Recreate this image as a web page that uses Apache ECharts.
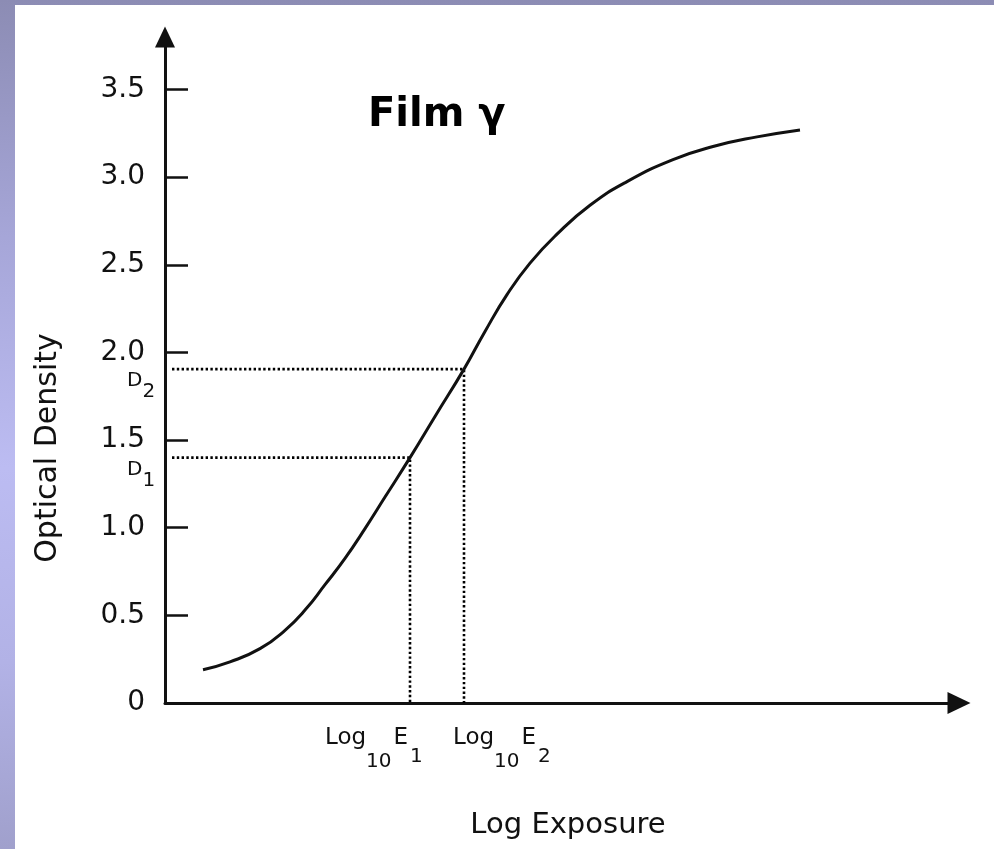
<!DOCTYPE html>
<html><head><meta charset="utf-8">
<script src="https://cdn.jsdelivr.net/npm/echarts@6/dist/echarts.min.js"></script>
<style>
html,body{margin:0;padding:0;}
body{width:994px;height:849px;position:relative;overflow:hidden;
background:linear-gradient(to bottom,#8c8cb4 0%,#a6a6d8 28%,#bcbcf2 55%,#b2b2e6 78%,#a0a0cc 100%);}
#paper{position:absolute;left:15px;top:5px;right:0;bottom:0;background:#fff;}
#chart{position:absolute;left:0;top:0;width:994px;height:849px;}
</style></head><body>
<div id="paper"></div><div id="chart"></div>
<script>
// Characteristic (H&D) curve of a film
const exposure = [0.38,0.65,0.95,1.20,1.40,1.60,1.80,2.00,2.20,2.45,2.70,2.99,3.20,3.42,3.65,3.92,4.25,4.62,5.08,5.48,5.92,6.35];
const density  = [0.19,0.235,0.31,0.415,0.53,0.675,0.825,0.995,1.175,1.40,1.635,1.905,2.12,2.33,2.51,2.675,2.84,2.975,3.10,3.175,3.23,3.27];
const yTicks = [0,0.5,1.0,1.5,2.0,2.5,3.0,3.5];
const markExposure = [2.45, 2.99];   // Log10 E1, Log10 E2
const markDensity  = [1.40, 1.905];  // D1, D2
const markIndex = ['1','2'];
const titleText = 'Film γ';
const xName = 'Log Exposure';
const yName = 'Optical Density';

const FONT = 'DejaVu Sans';
const INK = '#111';

const curve = exposure.map((x,i)=>[x,density[i]]);
const guideSeries = markExposure.map((e,i)=>({
  type:'line', symbol:'none', silent:true, z:1,
  data:[[0.07, markDensity[i]],[e, markDensity[i]],[e, 0]],
  lineStyle:{color:'#000', width:2.6, type:[2.4,2.4]}
}));

const chart = echarts.init(document.getElementById('chart'), null, {renderer:'canvas'});
const option = {
  animation:false,
  backgroundColor:'transparent',
  grid:{left:165, right:35, top:37, bottom:146, containLabel:false},
  xAxis:{
    type:'value', min:0, max:7.94,
    axisLine:{show:true, symbol:['none','triangle'], symbolSize:[22,23], lineStyle:{color:INK, width:3}},
    axisTick:{show:false}, axisLabel:{show:false}, splitLine:{show:false},
    name:xName, nameLocation:'middle', nameGap:108,
    nameTextStyle:{fontFamily:FONT, fontSize:29, color:INK, padding:[0,0,0,12]}
  },
  yAxis:{
    type:'value', min:0, max:3.8,
    axisLine:{show:true, symbol:['none','triangle'], symbolSize:[20,21], lineStyle:{color:INK, width:3}},
    axisTick:{show:true, inside:true, length:23, customValues:yTicks, lineStyle:{color:INK, width:2.5}},
    axisLabel:{customValues:yTicks, margin:20, fontFamily:FONT, fontSize:28, color:INK,
      formatter:v=> v===0 ? '0' : v.toFixed(1)},
    splitLine:{show:false}
  },
  series:[
    {type:'line', data:curve, symbol:'none', smooth:0.5, z:3,
     lineStyle:{color:INK, width:3}},
    ...guideSeries
  ]
};
chart.setOption(option);

function toPx(x,y){ return chart.convertToPixel({gridIndex:0},[x,y]); }

const graphics = [];
// title
graphics.push({type:'text', left:368, top:96, z:10,
  style:{text:titleText, font:'bold 40px "DejaVu Sans"', fill:'#000'}});
// y axis name
graphics.push({type:'text', x:48, y:448, rotation:Math.PI/2, z:10,
  style:{text:yName, font:'30px "DejaVu Sans"', fill:INK, align:'center', verticalAlign:'middle'}});
// D labels
markDensity.forEach((d,i)=>{
  const p = toPx(0,d);
  graphics.push({type:'text', x:127, y:p[1]+2, z:10,
    style:{text:'{m|D}{s|'+markIndex[i]+'}', verticalAlign:'top', fill:INK,
      rich:{m:{fontFamily:FONT, fontSize:20, lineHeight:20, verticalAlign:'top', fill:INK},
            s:{fontFamily:FONT, fontSize:20, lineHeight:20, verticalAlign:'top', padding:[11,0,0,0], fill:INK}}}});
});
// Log10 E labels
const eShift = [-85, -11];
markExposure.forEach((e,i)=>{
  const p = toPx(e,0);
  graphics.push({type:'text', x:p[0]+eShift[i], y:p[1]+24, z:10,
    style:{text:'{m|Log}{t|10}{m|E}{s|'+markIndex[i]+'}', verticalAlign:'top', fill:INK,
      rich:{m:{fontFamily:FONT, fontSize:23, lineHeight:25, verticalAlign:'top', fill:INK},
            t:{fontFamily:FONT, fontSize:20, lineHeight:20, verticalAlign:'top', padding:[25,2,0,0], fill:INK},
            s:{fontFamily:FONT, fontSize:20, lineHeight:20, verticalAlign:'top', padding:[20,0,0,2], fill:INK}}}});
});
chart.setOption({graphic:graphics});
</script>
</body></html>
